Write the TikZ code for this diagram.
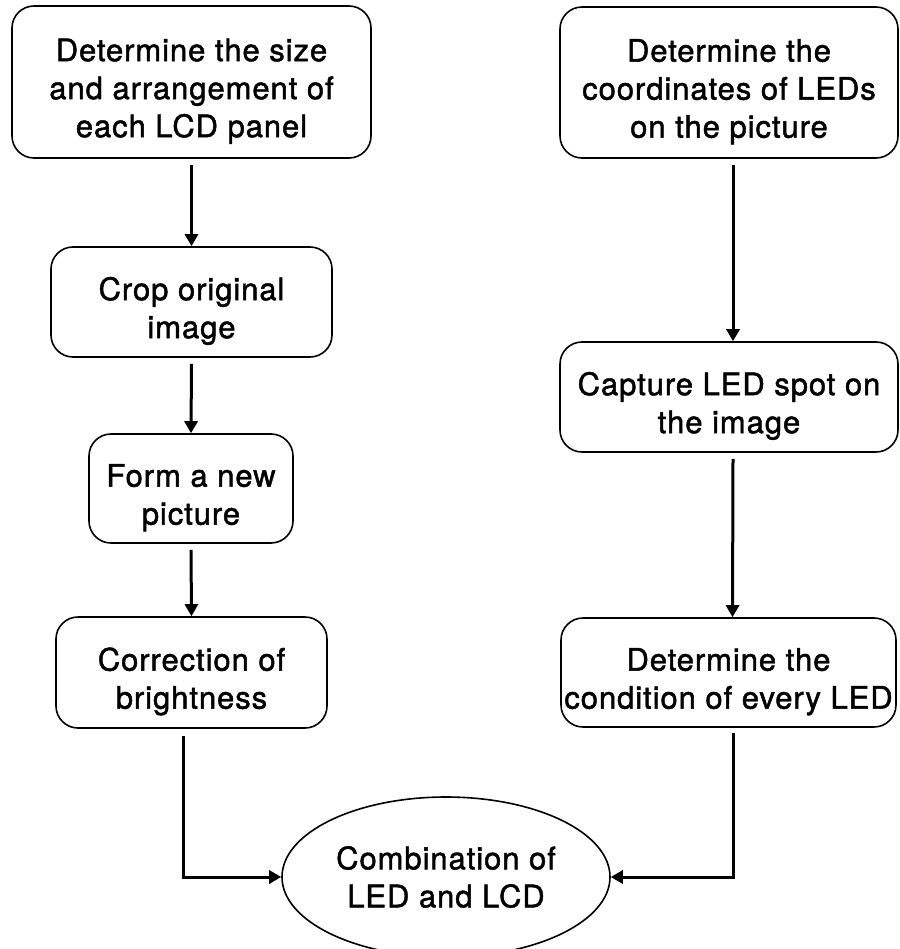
\documentclass[tikz,border=0pt]{standalone}
\usepackage{fontspec}
\setmainfont{TeX Gyre Heros}[LetterSpace=3, FakeBold=1.5]
\usetikzlibrary{arrows.meta, shapes.geometric}
\newcommand{\topgap}{\rule{0pt}{41pt}}

\begin{document}
\begin{tikzpicture}[x=1pt, y=-1pt,
    stepbox/.style={draw, rounded corners=22pt, line width=1.6pt, align=center, inner sep=0pt, font=\fontsize{31}{38}\selectfont},
    endnode/.style={draw, ellipse, line width=1.6pt, align=center, inner sep=0pt, font=\fontsize{31}{38}\selectfont},
    flow/.style={line width=3pt, -{Triangle[width=13pt,length=12pt]}}]
    \useasboundingbox (0,0) rectangle (899,949);

    \node[stepbox, minimum width=359pt, minimum height=152pt] (lcd) at (191.5,82) {\topgap Determine the size\\and arrangement of\\each LCD panel};
    \node[stepbox, minimum width=281pt, minimum height=110pt] (crop) at (191.5,302) {\topgap Crop original\\image};
    \node[stepbox, minimum width=204pt, minimum height=109pt] (form) at (191,488.5) {\topgap Form a new\\picture};
    \node[stepbox, minimum width=271pt, minimum height=111pt] (bright) at (191.5,672.5) {\topgap Correction of\\brightness};

    \node[stepbox, minimum width=338pt, minimum height=151pt] (coords) at (729,82.5) {\topgap Determine the\\coordinates of LEDs\\on the picture};
    \node[stepbox, minimum width=338pt, minimum height=110pt] (capture) at (729,397) {\topgap Capture LED spot on\\the image};
    \node[stepbox, minimum width=335pt, minimum height=109pt] (cond) at (728.5,672.5) {\topgap Determine the\\condition of every LED};

    \node[endnode, minimum width=328pt, minimum height=160pt] (combo) at (446,877) {Combination of\\LED and LCD};

    \draw[flow] ([yshift=-6pt]lcd.south) -- (crop.north);
    \draw[flow] ([yshift=-6pt]crop.south) -- (form.north);
    \draw[flow] ([yshift=-6pt]form.south) -- (bright.north);
    \draw[flow] ([xshift=4pt,yshift=-6pt]coords.south) -- ([xshift=4pt]capture.north);
    \draw[flow] ([xshift=4pt,yshift=-6pt]capture.south) -- ([xshift=4pt]cond.north);
    \draw[flow] ([xshift=-8.5pt,yshift=-7pt]bright.south) |- (combo.west);
    \draw[flow] ([xshift=4.5pt,yshift=-5pt]cond.south) |- (combo.east);
\end{tikzpicture}
\end{document}
